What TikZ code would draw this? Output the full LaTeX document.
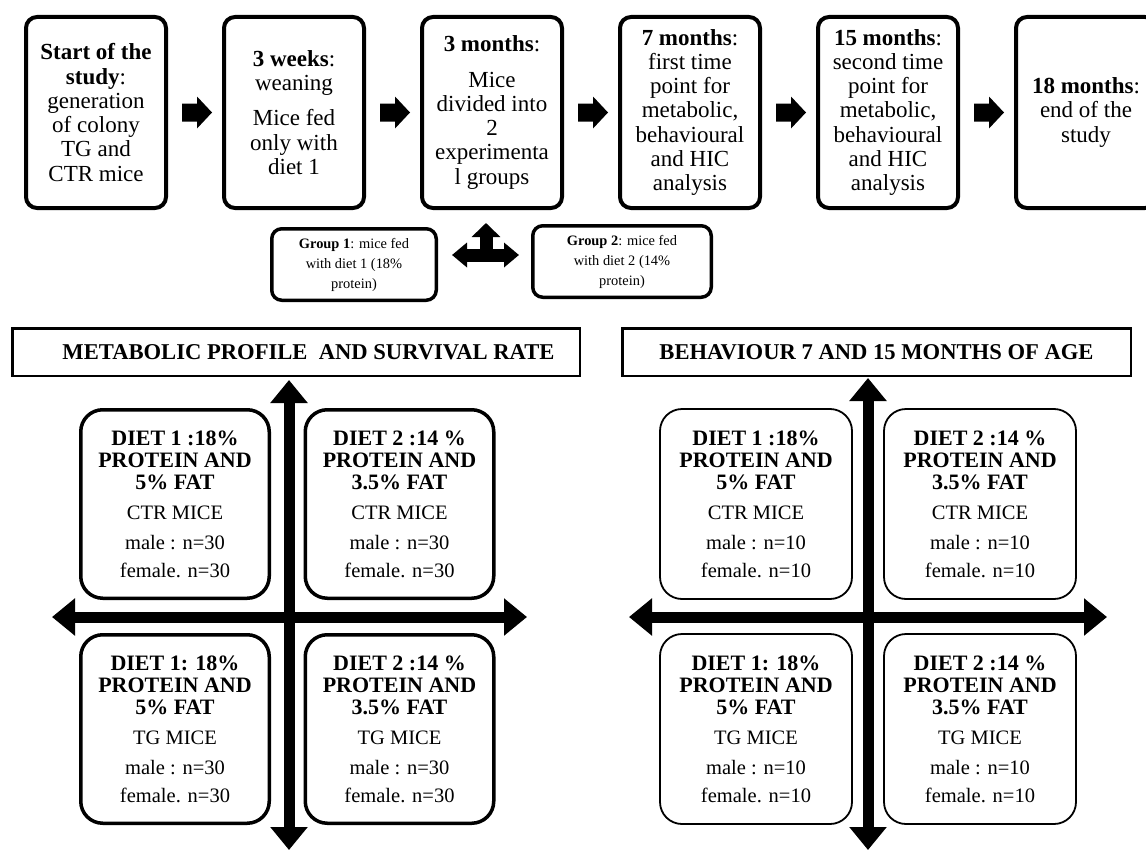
\documentclass[tikz,border=0pt]{standalone}
\usepackage{fontspec}
\setmainfont{Liberation Serif}
\usetikzlibrary{arrows.meta,calc}
\newcommand\quadtxt[4]{{\bfseries\fontsize{22}{22}\selectfont #1}\\{\bfseries\fontsize{22}{22}\selectfont PROTEIN AND}\\{\bfseries\fontsize{22}{22}\selectfont #2}\\[8pt]#3\\[8pt]male : n=#4\\[6pt]female. n=#4}
\begin{document}
\begin{tikzpicture}[x=1pt,y=-1pt,
 topbox/.style={draw, line width=4pt, rounded corners=11pt, minimum width=140pt, minimum height=191pt, inner sep=0pt, align=center, font=\fontsize{23}{24.3}\selectfont},
 grpbox/.style={draw, line width=3.5pt, rounded corners=10pt, minimum height=71.5pt, inner sep=0pt, align=center, font=\fontsize{14.4}{20}\selectfont},
 headbox/.style={draw, line width=2.5pt, minimum height=47.5pt, inner sep=0pt, font=\bfseries\fontsize{22.6}{26}\selectfont},
 quadL/.style={draw, line width=3.5pt, rounded corners=22pt, minimum width=188.5pt, minimum height=188.5pt, inner sep=0pt, align=center, font=\fontsize{20.5}{22}\selectfont},
 quadR/.style={quadL, line width=1.8pt, minimum width=192pt, minimum height=190pt},
 axis/.style={line width=11pt, arrows={Triangle[width=36pt,length=23pt]-Triangle[width=36pt,length=23pt]}},
 blockarrow/.style={fill=black}
]
\fill[white] (0,0) rectangle (1146,851);
\useasboundingbox (0,0) rectangle (1146,851);
\clip (0,0) rectangle (1146,851);

% timeline boxes
\node[topbox] (b1) at (96,112.5) {\textbf{Start of the}\\\textbf{study}:\\generation\\of colony\\TG and\\CTR mice};
\node[topbox] (b2) at (294,112.5) {\textbf{3 weeks}:\\weaning\\[11pt]Mice fed\\only with\\diet 1};
\node[topbox] (b3) at (492,112.5) {\textbf{3 months}:\\[11pt]Mice\\divided into\\2\\experimenta\\l groups};
\node[topbox] (b4) at (690,112.5) {\textbf{7 months}:\\first time\\point for\\metabolic,\\behavioural\\and HIC\\analysis};
\node[topbox] (b5) at (888,112.5) {\textbf{15 months}:\\second time\\point for\\metabolic,\\behavioural\\and HIC\\analysis};
\node[topbox] (b6) at (1086,112.5) {\textbf{18 months}:\\end of the\\study};

\foreach \a/\b in {b1/b2,b2/b3,b3/b4,b4/b5,b5/b6}
  \fill[blockarrow] ($(\a.east)!0.5!(\b.west)+(-13,-9)$) -- ++(15,0) -- ++(0,-7) -- ++(15,16) -- ++(-15,16) -- ++(0,-7) -- ++(-15,0) -- cycle;

% groups
\node[grpbox, minimum width=164.5pt] (g1) at (354,264.5) {\textbf{Group 1}: mice fed\\with diet 1 (18\%\\protein)};
\node[grpbox, minimum width=178.5pt] (g2) at (622,261.5) {\textbf{Group 2}: mice fed\\with diet 2 (14\%\\protein)};
\coordinate (gc) at (486,255);
\coordinate (gu) at (486,223);
\coordinate (gl) at (452,255);
\coordinate (gr) at (519,255);
\draw[line width=13pt, arrows={Triangle[width=24pt,length=15pt]-Triangle[width=24pt,length=15pt]}] (gl) -- (gr);
\draw[line width=13pt, arrows={-Triangle[width=28pt,length=14pt]}] (gc) -- (gu);

% headings
\node[headbox, minimum width=567.5pt] (h1) at (296,352) {\hspace*{25pt}METABOLIC PROFILE\ \ AND SURVIVAL RATE};
\node[headbox, minimum width=508.5pt] (h2) at (876.5,352) {BEHAVIOUR 7 AND 15 MONTHS OF AGE};

% left quadrants
\node[quadL] (q1) at (175,504) {\quadtxt{DIET 1 :18\%}{5\% FAT}{CTR MICE}{30}};
\node[quadL] (q2) at (399.5,504) {\quadtxt{DIET 2 :14 \%}{3.5\% FAT}{CTR MICE}{30}};
\node[quadL] (q3) at (175,729) {\quadtxt{DIET 1: 18\%}{5\% FAT}{TG MICE}{30}};
\node[quadL] (q4) at (399.5,729) {\quadtxt{DIET 2 :14 \%}{3.5\% FAT}{TG MICE}{30}};
\coordinate (lt) at (289,380);
\coordinate (lb) at (289,850);
\coordinate (ll) at (52,617);
\coordinate (lr) at (527,617);
\draw[axis] (lt) -- (lb);
\draw[axis] (ll) -- (lr);

% right quadrants
\node[quadR] (r1) at (756,504) {\quadtxt{DIET 1 :18\%}{5\% FAT}{CTR MICE}{10}};
\node[quadR] (r2) at (980,504) {\quadtxt{DIET 2 :14 \%}{3.5\% FAT}{CTR MICE}{10}};
\node[quadR] (r3) at (756,729) {\quadtxt{DIET 1: 18\%}{5\% FAT}{TG MICE}{10}};
\node[quadR] (r4) at (980,729) {\quadtxt{DIET 2 :14 \%}{3.5\% FAT}{TG MICE}{10}};
\coordinate (rt) at (868,378);
\coordinate (rb) at (868,850);
\coordinate (rl) at (629,617);
\coordinate (rr) at (1107,617);
\draw[axis] (rt) -- (rb);
\draw[axis] (rl) -- (rr);
\end{tikzpicture}
\end{document}
